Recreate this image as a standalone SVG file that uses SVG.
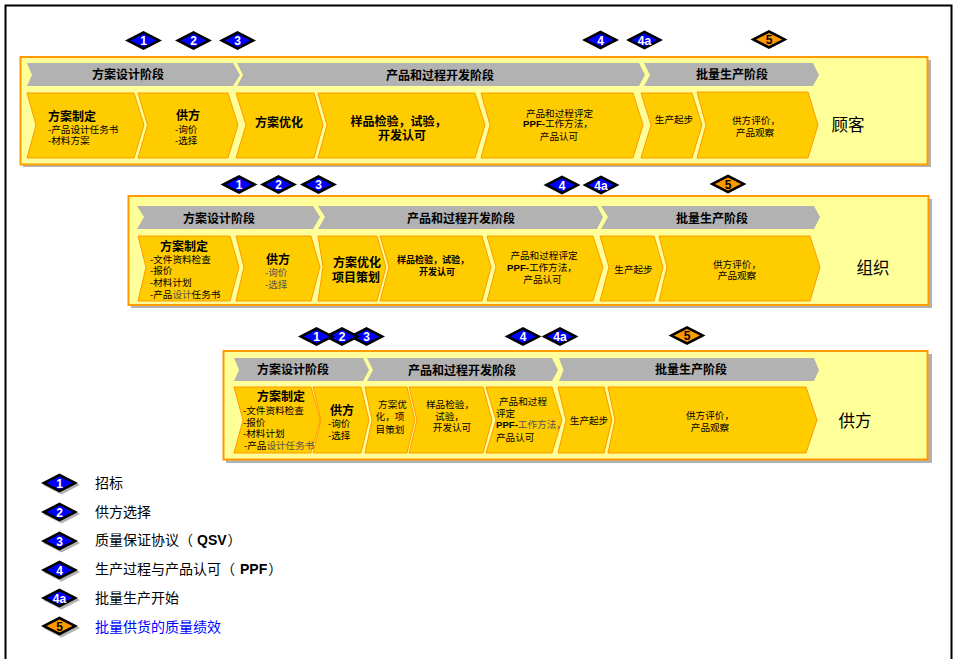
<svg xmlns="http://www.w3.org/2000/svg" width="953" height="659" viewBox="0 0 953 659">
<style>
text{font-family:"Liberation Sans","Noto Sans CJK SC",sans-serif;text-anchor:middle;fill:#000}
.panel{fill:#ffff99;stroke:#ff9900;stroke-width:2}
.shadow{fill:#b2b2b2}
.grey{fill:#b2b2b2}
.gold{fill:#ffcc00;stroke:#ff9900;stroke-width:1}
.h{font-size:12px;font-weight:700}
.t{font-size:12px;font-weight:700}
.s{font-size:9.6px}
.b9{font-size:9px;font-weight:700}
.p{font-size:16.500px}
.in{fill:#0000ff}
.or{fill:#ff9900}
.n{font-size:12px;font-weight:700;fill:#fff}
.nd{font-size:12px;font-weight:700;fill:#000}
.l{font-size:14px;text-anchor:start}
.st{text-anchor:start}
.lt{fill:#555}
</style>
<defs>
<g id="d"><path d="M-18.500 0L0-9.500L18.500 0L0 9.500Z" fill="#000"/><path class="in" d="M-13 0L0-6.500L13 0L0 6.500Z"/></g>
<g id="o"><path d="M-18.500 0L0-9.500L18.500 0L0 9.500Z" fill="#000"/><path class="or" d="M-13 0L0-6.500L13 0L0 6.500Z"/></g>
<g id="ds"><path d="M-16.500 2L2-7.500L20.500 2L2 11.500Z" fill="#b2b2b2"/><path d="M-18.500 0L0-9.500L18.500 0L0 9.500Z" fill="#000"/><path class="in" d="M-13 0L0-6.500L13 0L0 6.500Z"/></g>
<g id="os"><path d="M-16.500 2L2-7.500L20.500 2L2 11.500Z" fill="#b2b2b2"/><path d="M-18.500 0L0-9.500L18.500 0L0 9.500Z" fill="#000"/><path class="or" d="M-13 0L0-6.500L13 0L0 6.500Z"/></g>
</defs>
<rect x="0" y="0" width="953" height="659" fill="#fff"/>
<path id="frame" d="M5.500 659V5.500H951.500V659" fill="none" stroke="#000" stroke-width="2"/>

<g id="customer">
<rect class="shadow" x="23" y="60" width="908" height="107"/>
<rect class="panel" x="20.500" y="57" width="907" height="107.500"/>
<path class="grey" d="M27 63H233L240 75L233 86H27L32 75Z"/>
<path class="grey" d="M237 63H639L645 75L639 86H237L243 75Z"/>
<path class="grey" d="M644 63H813L819 75L813 86H644L650 75Z"/>
<text class="h" x="128" y="79">方案设计阶段</text>
<text class="h" x="440" y="80">产品和过程开发阶段</text>
<text class="h" x="732" y="79">批量生产阶段</text>
<path class="gold" d="M27 93H134L144 125L134 158H27L36 125Z"/>
<path class="gold" d="M138 93H228L238 125L228 158H138L147.500 125Z"/>
<path class="gold" d="M236 93H314L323 125L314 158H236L246 125Z"/>
<path class="gold" d="M318 93H475L485 125L475 158H318L327 125Z"/>
<path class="gold" d="M481 93H633L643 125L633 158H481L490 125Z"/>
<path class="gold" d="M641 93H692L702 125L692 158H641L651 125Z"/>
<path class="gold" d="M697 92H808L818 125L808 158H697L706 125Z"/>
<text class="t" x="72" y="121">方案制定</text>
<text class="s st" x="48" y="133">-产品设计任务书</text>
<text class="s st" x="48" y="144">-材料方案</text>
<text class="t" x="188" y="120">供方</text>
<text class="s st" x="175" y="133">-询价</text>
<text class="s st" x="175" y="144">-选择</text>
<text class="t" x="279" y="127">方案优化</text>
<text class="t" x="398.500" y="126">样品检验，试验，</text>
<text class="t" x="402" y="140">开发认可</text>
<text class="s" x="559.500" y="117">产品和过程评定</text>
<text class="s" x="558" y="127"><tspan font-weight="700">PPF-</tspan>工作方法，</text>
<text class="s" x="559" y="140">产品认可</text>
<text class="s" x="674" y="123">生产起步</text>
<text class="s" x="756" y="124">供方评价，</text>
<text class="s" x="755" y="136">产品观察</text>
<text class="p" x="848" y="131">顾客</text>
</g>

<g id="organisation">
<rect class="shadow" x="131" y="199" width="801" height="109"/>
<rect class="panel" x="128.500" y="196" width="800" height="109"/>
<path class="grey" d="M137 206H313L320 217L313 229H137L144 217Z"/>
<path class="grey" d="M318 206H597L603 217L597 229H318L325 217Z"/>
<path class="grey" d="M601 206H814L820 217L814 229H601L608 217Z"/>
<text class="h" x="219" y="223">方案设计阶段</text>
<text class="h" x="461" y="223">产品和过程开发阶段</text>
<text class="h" x="712" y="223">批量生产阶段</text>
<path class="gold" d="M138 236H230L239 267L230 301H138L146 267Z"/>
<path class="gold" d="M236 236H311L320 267L311 301H236L244 267Z"/>
<path class="gold" d="M318 236H377L386 267L377 301H318L323 267Z"/>
<path class="gold" d="M380 236H482L491 267L482 301H380L389 267Z"/>
<path class="gold" d="M487 236H593L603 267L593 301H487L496 267Z"/>
<path class="gold" d="M600 236H654L663 267L654 301H600L609 267Z"/>
<path class="gold" d="M659 236H810L820 267L810 301H659L667 267Z"/>
<text class="t" x="184" y="251">方案制定</text>
<text class="s st" x="150" y="263">-文件资料检查</text>
<text class="s st" x="150" y="274">-报价</text>
<text class="s st" x="150" y="286">-材料计划</text>
<text class="s st" x="150" y="298">-产品<tspan class="lt">设计</tspan>任务书</text>
<text class="t" x="278" y="264">供方</text>
<text class="s st lt" x="265" y="276">-询价</text>
<text class="s st lt" x="265" y="288">-选择</text>
<text class="t" x="357" y="267">方案优化</text>
<text class="t" x="356" y="282">项目策划</text>
<text class="b9" x="433" y="263">样品检验，试验，</text>
<text class="b9" x="437" y="275">开发认可</text>
<text class="s" x="544" y="259">产品和过程评定</text>
<text class="s" x="542" y="271"><tspan font-weight="700">PPF-</tspan>工作方法，</text>
<text class="s" x="542.500" y="283">产品认可</text>
<text class="s" x="633.500" y="273">生产起步</text>
<text class="s" x="737" y="268">供方评价，</text>
<text class="s" x="737" y="279">产品观察</text>
<text class="p" x="873" y="274">组织</text>
</g>

<g id="supplier">
<rect class="shadow" x="226" y="354" width="706" height="109"/>
<rect class="panel" x="223.500" y="351" width="704" height="108.500"/>
<path class="grey" d="M234 358H363L369 370L363 381H234L239 370Z"/>
<path class="grey" d="M367 358H552L558 370L552 381H367L373 370Z"/>
<path class="grey" d="M559 358H814L819 370L814 381H559L563.500 370Z"/>
<text class="h" x="293" y="374">方案设计阶段</text>
<text class="h" x="462" y="375">产品和过程开发阶段</text>
<text class="h" x="691" y="374">批量生产阶段</text>
<path class="gold" d="M234 387H311L320 420L311 453H234L243 420Z"/>
<path class="gold" d="M313 387H361L369 420L361 453H313L321 420Z"/>
<path class="gold" d="M365 387H407L415 420L407 453H365L372 420Z"/>
<path class="gold" d="M409 387H483L492 420L483 453H409L417 420Z"/>
<path class="gold" d="M486 387H552L562 420L552 453H486L496 420Z"/>
<path class="gold" d="M558 387H604L612 420L604 453H558L566 420Z"/>
<path class="gold" d="M608 387H806L817 420L806 453H608L615 420Z"/>
<text class="t" x="281" y="401">方案制定</text>
<text class="s st" x="243" y="414">-文件资料检查</text>
<text class="s st" x="243" y="426">-报价</text>
<text class="s st" x="243" y="437">-材料计划</text>
<text class="s st" x="244" y="449">-产品<tspan class="lt">设计任务书</tspan></text>
<text class="t" x="342" y="415">供方</text>
<text class="s st" x="328" y="427">-询价</text>
<text class="s st" x="328" y="439">-选择</text>
<text class="s" x="392.500" y="408">方案优</text>
<text class="s" x="390" y="420">化，项</text>
<text class="s" x="390" y="433">目策划</text>
<text class="s" x="450" y="408">样品检验，</text>
<text class="s" x="449.500" y="420">试验，</text>
<text class="s" x="452" y="431">开发认可</text>
<text class="s" x="523" y="405">产品和过程</text>
<text class="s st" x="496" y="417">评定</text>
<text class="s st" x="496" y="428"><tspan font-weight="700">PPF-</tspan><tspan class="lt">工作方法，</tspan></text>
<text class="s st" x="496" y="441">产品认可</text>
<text class="s" x="589" y="424">生产起步</text>
<text class="s" x="710" y="419">供方评价，</text>
<text class="s" x="710" y="431">产品观察</text>
<text class="p" x="855" y="427">供方</text>
</g>

<g id="markers-customer">
<use href="#d" x="143.500" y="40.500"/><text class="n" x="143.500" y="45">1</text>
<use href="#d" x="193.500" y="40.500"/><text class="n" x="193.500" y="45">2</text>
<use href="#d" x="237.500" y="40.500"/><text class="n" x="237.500" y="45">3</text>
<use href="#d" x="600.500" y="40"/><text class="n" x="600.500" y="44.500">4</text>
<use href="#d" x="644.500" y="40"/><text class="n" x="644.500" y="44.500">4a</text>
<use href="#o" x="769" y="39.500"/><text class="nd" x="769" y="44">5</text>
</g>
<g id="markers-organisation">
<use href="#d" x="239" y="184.500"/><text class="n" x="239" y="189">1</text>
<use href="#d" x="278.500" y="184.500"/><text class="n" x="278.500" y="189">2</text>
<use href="#d" x="318.500" y="184.500"/><text class="n" x="318.500" y="189">3</text>
<use href="#d" x="562" y="185"/><text class="n" x="562" y="189.500">4</text>
<use href="#d" x="601" y="185"/><text class="n" x="601" y="189.500">4a</text>
<use href="#o" x="728" y="184"/><text class="nd" x="728" y="188.500">5</text>
</g>
<g id="markers-supplier">
<use href="#d" x="366.500" y="336.500"/><text class="n" x="366.500" y="341">3</text>
<use href="#d" x="342" y="336.500"/><text class="n" x="342" y="341">2</text>
<use href="#d" x="316.500" y="336.500"/><text class="n" x="316.500" y="341">1</text>
<use href="#d" x="523" y="336.500"/><text class="n" x="523" y="341">4</text>
<use href="#d" x="560" y="336.500"/><text class="n" x="560" y="341">4a</text>
<use href="#o" x="687" y="335.500"/><text class="nd" x="687" y="340">5</text>
</g>

<g id="legend">
<use href="#ds" x="59.500" y="483"/><text class="n" x="59.500" y="487.500">1</text><text class="l" x="95" y="488">招标</text>
<use href="#ds" x="59.500" y="512"/><text class="n" x="59.500" y="516.500">2</text><text class="l" x="95" y="517">供方选择</text>
<use href="#ds" x="59.500" y="541"/><text class="n" x="59.500" y="545.500">3</text><text class="l" x="95" y="545">质量保证协议（<tspan font-weight="700" dx="4">QSV</tspan><tspan dx="1">）</tspan></text>
<use href="#ds" x="59.500" y="570"/><text class="n" x="59.500" y="574.500">4</text><text class="l" x="95" y="574">生产过程与产品认可（<tspan font-weight="700" dx="5">PPF</tspan><tspan dx="1">）</tspan></text>
<use href="#ds" x="59.500" y="598"/><text class="n" x="59.500" y="602.500">4a</text><text class="l" x="95" y="603">批量生产开始</text>
<use href="#os" x="59.500" y="626"/><text class="nd" x="59.500" y="630.500">5</text><text class="l" x="95" y="632" style="fill:#0000ff">批量供货的质量绩效</text>
</g>
</svg>
